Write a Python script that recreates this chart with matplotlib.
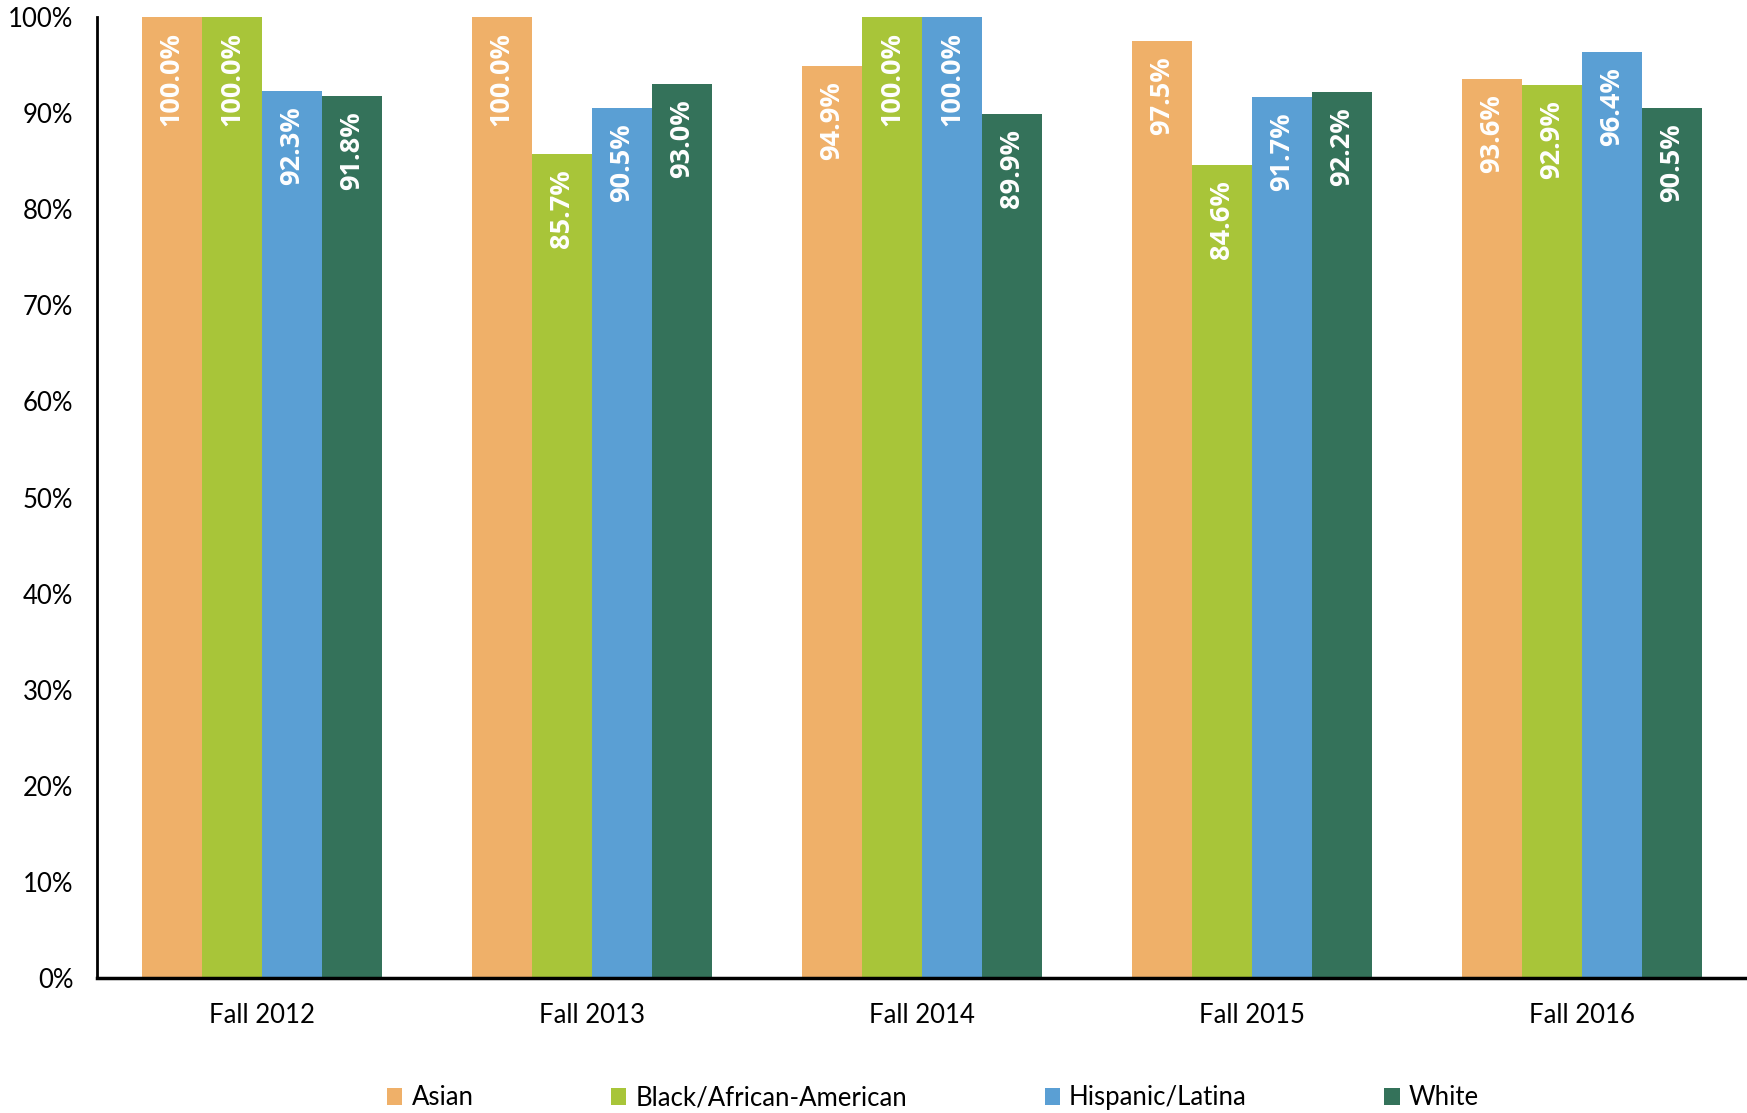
import matplotlib
matplotlib.use("Agg")
import matplotlib.pyplot as plt
from matplotlib.patches import Patch
import numpy as np

plt.rcParams['font.family'] = ['Lato', 'DejaVu Sans']

categories = ["Fall 2012", "Fall 2013", "Fall 2014", "Fall 2015", "Fall 2016"]
series_names = ["Asian", "Black/African-American", "Hispanic/Latina", "White"]
asian = [100.0, 100.0, 94.9, 97.5, 93.6]
black = [100.0, 85.7, 100.0, 84.6, 92.9]
hispanic = [92.3, 90.5, 100.0, 91.7, 96.4]
white = [91.8, 93.0, 89.9, 92.2, 90.5]
yticks = [0, 10, 20, 30, 40, 50, 60, 70, 80, 90, 100]

colors = ["#EFB069", "#A8C539", "#5A9FD4", "#34725A"]
all_series = [asian, black, hispanic, white]

fig = plt.figure(figsize=(17.47, 11.13), dpi=100)
ax = fig.add_axes([97/1747, 1 - 978/1113, 1 - 97/1747, (978 - 17)/1113])

x = np.arange(len(categories))
bw = 0.182
for i, (vals, col) in enumerate(zip(all_series, colors)):
    pos = x + (i - 1.5) * bw
    bars = ax.bar(pos, vals, width=bw, color=col, edgecolor='none', zorder=2)
    for b, v in zip(bars, vals):
        ax.annotate(f"{v:.1f}%", xy=(b.get_x() + b.get_width() / 2, v),
                    xytext=(0, -11), textcoords='offset points',
                    rotation=90, ha='center', va='top', color='white',
                    fontsize=19.5, fontweight='bold', family=['Open Sans', 'DejaVu Sans'])

ax.set_xlim(-0.5, len(categories) - 0.5)
ax.set_ylim(0, 100)
ax.set_yticks(yticks)
ax.set_yticklabels([f"{t}%" for t in yticks])
ax.set_xticks(x)
ax.set_xticklabels(categories)
ax.tick_params(axis='y', length=0, pad=17, labelsize=18.5)
ax.tick_params(axis='x', length=0, pad=18, labelsize=18.5)
for s in ['top', 'right']:
    ax.spines[s].set_visible(False)
ax.spines['left'].set_linewidth(2)
ax.spines['bottom'].set_linewidth(2.5)
ax.spines['left'].set_zorder(3)
ax.spines['bottom'].set_zorder(3)

handles = [Patch(facecolor=c, edgecolor='none') for c in colors]
fig.legend(handles, series_names, loc='center', bbox_to_anchor=(0.534, 0.0135),
           ncol=4, frameon=False, fontsize=18.5, handlelength=0.6, handleheight=0.6,
           handletextpad=0.35, columnspacing=5.35)

fig.savefig("out.png", dpi=100)
